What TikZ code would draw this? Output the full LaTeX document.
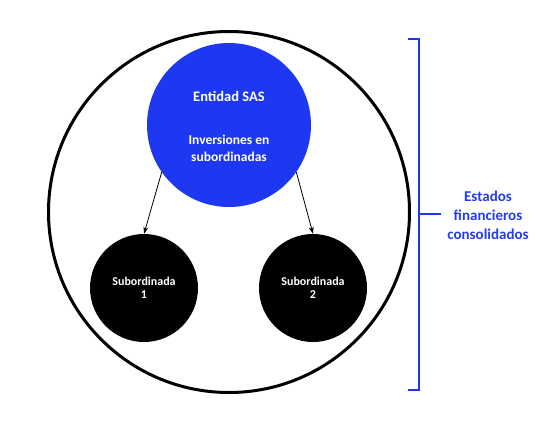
\documentclass[tikz,border=0pt]{standalone}
\usepackage{fontspec}
\setmainfont{Carlito}
\usetikzlibrary{arrows.meta}
\definecolor{entblue}{RGB}{29,56,240}
\definecolor{lblblue}{RGB}{36,60,235}
\begin{document}
\begin{tikzpicture}[x=1pt,y=-1pt,
  outer/.style={circle,draw=black,line width=3pt,minimum size=361pt,inner sep=0pt},
  parent/.style={circle,fill=entblue,minimum size=164pt,inner sep=0pt},
  sub/.style={circle,fill=black,minimum size=108pt,inner sep=0pt,text=white,font=\bfseries\fontsize{12}{13.5}\selectfont,align=center},
  conn/.style={-{Stealth[length=7pt,width=5pt]},line width=0.8pt},
  brk/.style={draw=entblue,line width=2.8pt},
  lbl/.style={text=lblblue,font=\bfseries\fontsize{15}{19}\selectfont,align=center}]
\useasboundingbox (0,0) rectangle (541,424);
\node[outer] (outerc) at (229,212) {};
\node[parent] (ent) at (229,125) {};
\node[text=white,font=\bfseries\fontsize{14.5}{16}\selectfont] (enttitle) at (229,96) {Entidad SAS};
\node[text=white,font=\bfseries\fontsize{13.5}{17}\selectfont,align=center] (entsub) at (229,148) {Inversiones en\\subordinadas};
\node[sub] (s1) at (144,288) {Subordinada\\1};
\node[sub] (s2) at (313,288) {Subordinada\\2};
\draw[conn] (ent.215) -- (s1.north);
\draw[conn] (ent.-35) -- (s2.north);
\coordinate (bt) at (408,39);
\coordinate (bb) at (408,390);
\coordinate (bm) at (441,214);
\draw[brk] (bt) -- (419,39) -- (419,390) -- (bb);
\draw[brk] (419,214) -- (bm);
\node[lbl] (lab) at (488,215) {Estados\\financieros\\consolidados};
\end{tikzpicture}
\end{document}
